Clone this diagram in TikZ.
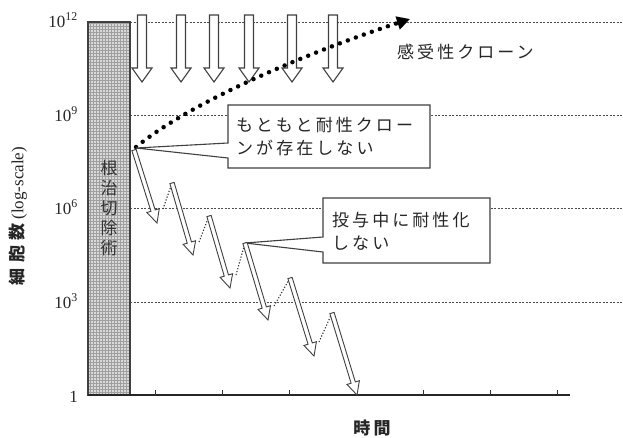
\documentclass[tikz,border=0pt]{standalone}
\usepackage{fontspec}
\setmainfont{Liberation Serif}
\newfontfamily\jp{Noto Sans CJK JP}
\newfontfamily\jpsp{Noto Sans CJK JP}[LetterSpace=18]
\newfontfamily\jpwide{Noto Sans CJK JP}[LetterSpace=30]
\usetikzlibrary{calc,arrows.meta,patterns}
\newcommand\myarrow[6]{%
  \coordinate (myarrowhead) at ($(#3)!#6!(#2)$);
  \filldraw[#1] ($(#2)!#4!90:(#3)$) -- ($(myarrowhead)!#4!90:(#3)$) -- ($(myarrowhead)!#5!90:(#3)$) -- (#3)
    -- ($(myarrowhead)!#5!-90:(#3)$) -- ($(myarrowhead)!#4!-90:(#3)$) -- ($(#2)!#4!-90:(#3)$) -- cycle;}
\begin{document}
\begin{tikzpicture}[x=1pt,y=-1pt,
  gridline/.style={black!70, line width=0.7pt, dash pattern=on 2pt off 1.5pt},
  bigarrow/.style={fill=white, draw=black!75, line width=1.1pt, line join=miter},
  zigarrow/.style={fill=white, draw=black!75, line width=0.9pt},
  zigdots/.style={black!80, line width=1.1pt, dash pattern=on 1.2pt off 1.8pt},
  clonedots/.style={black, line width=4.5pt, line cap=round, dash pattern=on 0pt off 8.5pt, -{Triangle[length=13pt,width=13pt]}},
  callout/.style={fill=white, draw=black!75, line width=1.1pt},
  jptext/.style={font=\fontsize{17}{23}\selectfont\jpsp, text=black!85, align=left, inner sep=0pt},
  ylab/.style={font=\fontsize{17}{17}\selectfont, text=black!85, anchor=base east, inner sep=0pt},
]
\useasboundingbox[fill=white] (0,0) rectangle (623,437);
% grid lines
\foreach \y in {22,115,208,302} \draw[gridline] (130,\y) -- (623,\y);
% surgery bar
\coordinate (barnw) at (88,22);
\coordinate (barse) at (130,395);
\fill[gray!30] (barnw) rectangle (barse);
\fill[pattern=grid, pattern color=gray!75] (barnw) rectangle (barse);
\draw[black!75, line width=1.1pt] (barnw) rectangle (barse);
\node[font=\fontsize{17}{20}\selectfont\jp, text=black!80, align=center, inner sep=0pt] (surg) at (109,208) {根\\治\\切\\除\\術};
% x axis
\draw[black!85, line width=1.2pt] (88,395) -- (570,395);
\foreach \x in {155,222,289,356,423,490,557} \draw[black!80, line width=0.8pt] (\x,395) -- (\x,390);
% top arrows
\foreach \x [count=\i] in {142,181,214,249,292,333} {
  \coordinate (ta\i s) at (\x,15);
  \coordinate (ta\i e) at (\x,82);
  \myarrow{bigarrow}{ta\i s}{ta\i e}{4.5pt}{10pt}{14pt}
}
% sensitive clone curve
\coordinate (cs) at (136,147);
\coordinate (ce) at (410,19);
\draw[clonedots] (cs) .. controls (200,95) and (330,45) .. (ce);
\node[jptext, anchor=west] (sens) at (397,52) {感受性クローン};
% callout 1
\coordinate (b1nw) at (228,105); \coordinate (b1ne) at (430,105);
\coordinate (b1se) at (430,168); \coordinate (b1sw) at (228,168);
\coordinate (b1pa) at (228,143); \coordinate (b1pb) at (228,158);
\coordinate (b1tip) at (136,148);
\draw[callout] (b1pa) -- (b1nw) -- (b1ne) -- (b1se) -- (b1sw) -- (b1pb) -- (b1tip) -- cycle;
\node[jptext, anchor=west] (t1) at (236,136.5) {もともと耐性クロー\\ンが存在しない};
% callout 2
\coordinate (b2nw) at (323,198); \coordinate (b2ne) at (490,198);
\coordinate (b2se) at (490,263); \coordinate (b2sw) at (323,263);
\coordinate (b2pa) at (323,237); \coordinate (b2pb) at (323,252);
\coordinate (b2tip) at (245,243);
\draw[callout] (b2pa) -- (b2nw) -- (b2ne) -- (b2se) -- (b2sw) -- (b2pb) -- (b2tip) -- cycle;
\node[jptext, anchor=west] (t2) at (332,231.5) {投与中に耐性化\\しない};
% zigzag arrows
\coordinate (z1s) at (134,150); \coordinate (z1e) at (157,223);
\coordinate (z2s) at (172,183); \coordinate (z2e) at (193,255);
\coordinate (z3s) at (209,216); \coordinate (z3e) at (230,288);
\coordinate (z4s) at (245,243); \coordinate (z4e) at (268,320);
\coordinate (z5s) at (290,278); \coordinate (z5e) at (314,356);
\coordinate (z6s) at (332,313); \coordinate (z6e) at (357,395);
\coordinate (d1) at (163,209); \coordinate (d2) at (199,242);
\coordinate (d3) at (236,275); \coordinate (d4) at (274,306);
\coordinate (d5) at (319,342);
\draw[zigdots] (d1) -- (z2s);
\draw[zigdots] (d2) -- (z3s);
\draw[zigdots] (d3) -- (z4s);
\draw[zigdots] (d4) -- (z5s);
\draw[zigdots] (d5) -- (z6s);
\foreach \i in {1,...,6} { \myarrow{zigarrow}{z\i s}{z\i e}{2.2pt}{6.5pt}{13pt} }
% axis labels
\node[ylab] (y12) at (78,27) {10\textsuperscript{12}};
\node[ylab] (y9) at (78,121) {10\textsuperscript{9}};
\node[ylab] (y6) at (78,214) {10\textsuperscript{6}};
\node[ylab] (y3) at (78,308) {10\textsuperscript{3}};
\node[ylab] (y0) at (78,402) {1};
\node[rotate=90, font=\fontsize{17}{17}\selectfont, text=black!85, inner sep=0pt] (ytitle) at (18,216) {{\jpwide\bfseries 細胞数} (log-scale)};
\node[font=\fontsize{17}{17}\selectfont\jpsp\bfseries, text=black!85, inner sep=0pt] (xtitle) at (372,428) {時間};
\end{tikzpicture}
\end{document}
